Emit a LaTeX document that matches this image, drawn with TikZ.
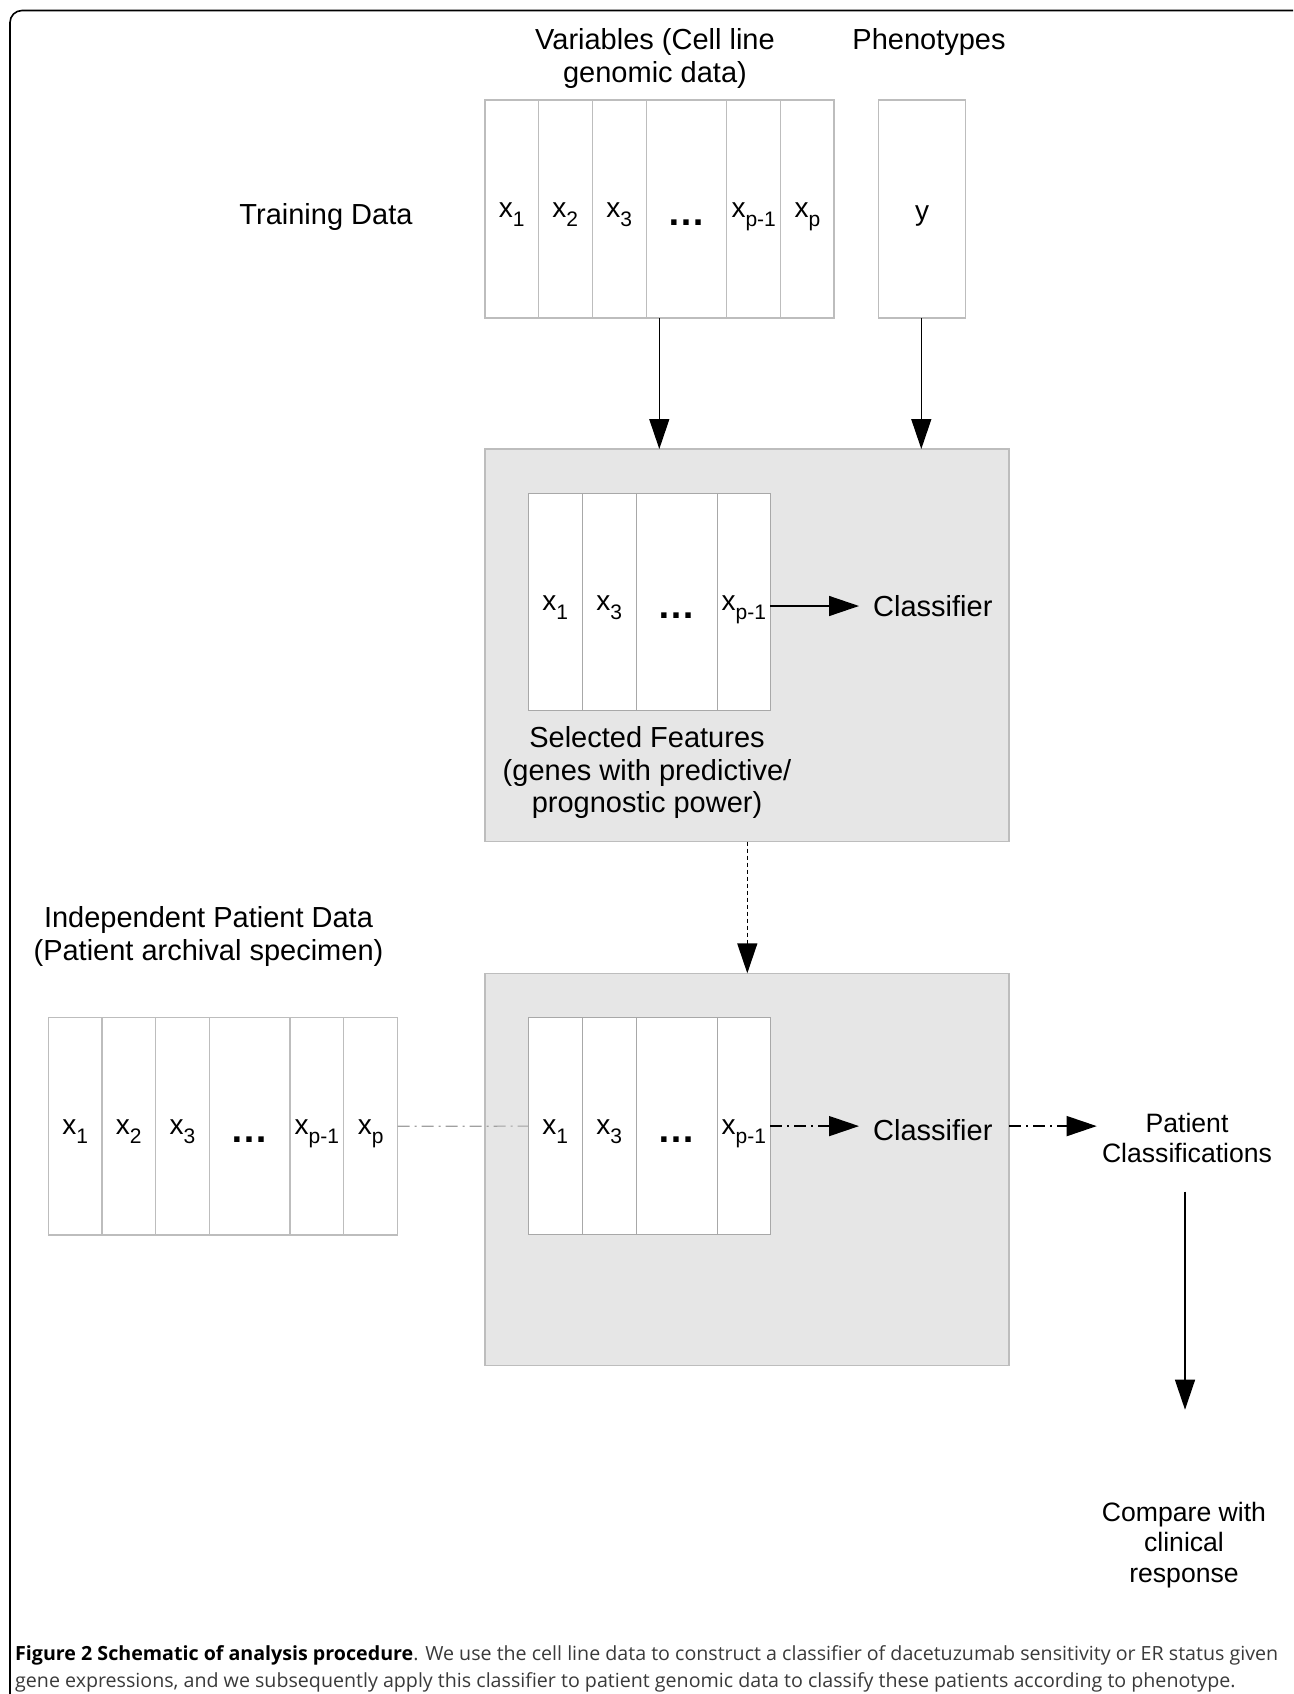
\documentclass[tikz,border=0pt]{standalone}
\usepackage{fontspec}
\setmainfont{Liberation Sans}
\newfontfamily\capfont{Open Sans}
\usetikzlibrary{arrows.meta,calc}
\definecolor{fillgray}{HTML}{E6E6E6}
\definecolor{boxgray}{HTML}{BDBDBD}
\definecolor{innergray}{HTML}{A8A8A8}
\definecolor{linegray}{HTML}{A0A0A0}
\definecolor{captext}{HTML}{3A3A3A}
\newcommand\subx[1]{x\raisebox{-9pt}{\fontsize{21}{21}\selectfont #1}}
\newcommand\dotsx{\raisebox{-8pt}{\bfseries\fontsize{38}{38}\selectfont …}}
\newsavebox\capA
\newsavebox\capB
\newlength\capw
\begin{document}
\sbox\capA{\capfont\fontsize{19.5}{27}\selectfont\textcolor{black}{\bfseries Figure 2 Schematic of analysis procedure}\textcolor{captext}{. We use the cell line data to construct a classifier of dacetuzumab sensitivity or ER status given}}%
\sbox\capB{\capfont\fontsize{19.5}{27}\selectfont\textcolor{captext}{gene expressions, and we subsequently apply this classifier to patient genomic data to classify these patients according to phenotype.}}%
\setlength\capw{\wd\capA}%
\begin{tikzpicture}[x=1pt,y=-1pt,
  col/.style={draw=boxgray, line width=1.1pt, fill=white, inner sep=0, outer sep=0, anchor=north west},
  icol/.style={draw=innergray, line width=1.1pt, fill=white, inner sep=0, outer sep=0, anchor=north west},
  graybox/.style={draw=boxgray, line width=1.2pt, fill=fillgray, inner sep=0, outer sep=0, anchor=north west},
  lbl/.style={anchor=base, inner sep=0, font=\fontsize{28}{28}\selectfont},
  txt/.style={align=center, inner sep=0, font=\fontsize{29}{32.4}\selectfont},
  smtxt/.style={align=center, inner sep=0, font=\fontsize{26.6}{30.2}\selectfont},
  arr/.style={-{Triangle[length=30pt,width=20pt]}, line width=1.4pt},
  dotarr/.style={arr, dash pattern=on 4pt off 3pt},
  dasharr/.style={arr, dash pattern=on 12pt off 5pt on 2pt off 5pt},
  dashline/.style={draw=linegray, line width=1.2pt, dash pattern=on 12pt off 5pt on 2pt off 5pt},
]
\useasboundingbox (0,0) rectangle (1293,1694);
\fill[white] (0,0) rectangle (1293,1694);
% frame
\draw[line width=1.6pt, rounded corners=12pt] (10,1694) -- (10,10.5) -- (1293,10.5);

% headings
\node[txt] (hvar) at (655,58.5) {Variables (Cell line\\genomic data)};
\node[txt] (hphen) at (929,42.5) {Phenotypes};
\node[txt] (htrain) at (326,216.5) {Training Data};

% top box columns
\node[col, minimum width=53.3pt, minimum height=218pt] (t1) at (485,100) {};
\node[col, minimum width=54pt, minimum height=218pt] (t2) at (538.3,100) {};
\node[col, minimum width=54pt, minimum height=218pt] (t3) at (592.3,100) {};
\node[col, minimum width=80.4pt, minimum height=218pt] (t4) at (646.3,100) {};
\node[col, minimum width=54pt, minimum height=218pt] (t5) at (726.7,100) {};
\node[col, minimum width=53.3pt, minimum height=218pt] (t6) at (780.7,100) {};
\node[lbl] at ($(t1.center)+(0,8)$) {\subx{1}};
\node[lbl] at ($(t2.center)+(0,8)$) {\subx{2}};
\node[lbl] at ($(t3.center)+(0,8)$) {\subx{3}};
\node[lbl] at ($(t4.center)+(0,8)$) {\dotsx};
\node[lbl] at ($(t5.center)+(0,8)$) {\subx{p-1}};
\node[lbl] at ($(t6.center)+(0,8)$) {\subx{p}};
% y box
\node[col, minimum width=87.4pt, minimum height=218pt] (ty) at (878.3,100) {};
\node[lbl] at ($(ty.center)+(0,11)$) {y};

% gray box 1
\node[graybox, minimum width=524pt, minimum height=392.5pt] (g1) at (485,449) {};
\node[icol, minimum width=54pt, minimum height=217pt] (s1) at (528.2,493.7) {};
\node[icol, minimum width=54pt, minimum height=217pt] (s2) at (582.2,493.7) {};
\node[icol, minimum width=81.1pt, minimum height=217pt] (s3) at (636.2,493.7) {};
\node[icol, minimum width=52.9pt, minimum height=217pt] (s4) at (717.3,493.7) {};
\node[lbl] at ($(s1.center)+(0,8)$) {\subx{1}};
\node[lbl] at ($(s2.center)+(0,8)$) {\subx{3}};
\node[lbl] at ($(s3.center)+(0,8)$) {\dotsx};
\node[lbl] at ($(s4.center)+(0,8)$) {\subx{p-1}};
\node[txt, anchor=west] (cl1) at (873,606) {Classifier};
\node[txt] (sel) at (647,772.5) {Selected Features\\(genes with predictive/\\prognostic power)};

% arrows into gray box 1
\coordinate (ax1) at (659.3,0);
\coordinate (ax2) at (921.3,0);
\draw[arr] (t4.south -| ax1) -- (g1.north -| ax1);
\draw[arr] (ty.south -| ax2) -- (g1.north -| ax2);
\draw[arr] (s4.east |- cl1.west) -- ([xshift=-14pt]cl1.west);

% independent patient data
\node[txt] (hind) at (208.5,936.5) {Independent Patient Data\\(Patient archival specimen)};

% gray box 2
\node[graybox, minimum width=524pt, minimum height=392pt] (g2) at (485,973.3) {};
\node[icol, minimum width=54pt, minimum height=217pt] (r1) at (528.2,1017.6) {};
\node[icol, minimum width=54pt, minimum height=217pt] (r2) at (582.2,1017.6) {};
\node[icol, minimum width=81.1pt, minimum height=217pt] (r3) at (636.2,1017.6) {};
\node[icol, minimum width=52.9pt, minimum height=217pt] (r4) at (717.3,1017.6) {};
\node[lbl] at ($(r1.center)+(0,8)$) {\subx{1}};
\node[lbl] at ($(r2.center)+(0,8)$) {\subx{3}};
\node[lbl] at ($(r3.center)+(0,8)$) {\dotsx};
\node[lbl] at ($(r4.center)+(0,8)$) {\subx{p-1}};
\node[txt, anchor=west] (cl2) at (873,1130) {Classifier};

% dotted arrow between gray boxes
\coordinate (ax3) at (747.3,0);
\draw[dotarr] (g1.south -| ax3) -- (g2.north -| ax3);

% left patient box
\node[col, minimum width=53.4pt, minimum height=217.5pt] (p1) at (48.6,1017.5) {};
\node[col, minimum width=53.6pt, minimum height=217.5pt] (p2) at (102,1017.5) {};
\node[col, minimum width=53.9pt, minimum height=217.5pt] (p3) at (155.6,1017.5) {};
\node[col, minimum width=80.5pt, minimum height=217.5pt] (p4) at (209.5,1017.5) {};
\node[col, minimum width=53.6pt, minimum height=217.5pt] (p5) at (290,1017.5) {};
\node[col, minimum width=54pt, minimum height=217.5pt] (p6) at (343.6,1017.5) {};
\node[lbl] at ($(p1.center)+(0,8)$) {\subx{1}};
\node[lbl] at ($(p2.center)+(0,8)$) {\subx{2}};
\node[lbl] at ($(p3.center)+(0,8)$) {\subx{3}};
\node[lbl] at ($(p4.center)+(0,8)$) {\dotsx};
\node[lbl] at ($(p5.center)+(0,8)$) {\subx{p-1}};
\node[lbl] at ($(p6.center)+(0,8)$) {\subx{p}};

% dash-dot connectors
\draw[dashline] (p6.east) -- (r1.west);
\draw[dasharr] (r4.east) -- ([xshift=-14pt]r4.east -| cl2.west);
\node[smtxt] (pc) at (1187,1138) {Patient\\Classifications};
\coordinate (pcin) at (1096.7,0);
\draw[dasharr] (g2.east |- r4.east) -- (pcin |- r4.east);

% final arrow
\node[smtxt] (cmp) at (1184,1545) {Compare with\\clinical\\response};
\coordinate (a5s) at (1185,1191.5);
\coordinate (a5e) at (1185,1409.7);
\draw[arr] (a5s) -- (a5e);

% caption
\pgfmathsetmacro\capscale{1263/\capw}
\node[anchor=base west, inner sep=0] (capl1) at (15,1660) {\scalebox{\capscale}[1]{\usebox\capA}};
\node[anchor=base west, inner sep=0] (capl2) at (15,1687) {\scalebox{\capscale}[1]{\usebox\capB}};
\end{tikzpicture}
\end{document}
